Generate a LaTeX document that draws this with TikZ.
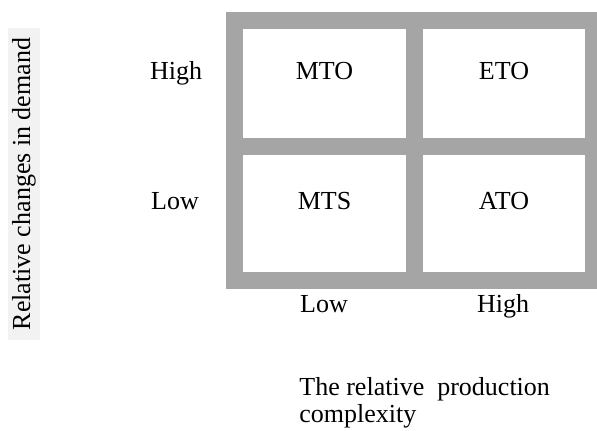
\documentclass[tikz,border=0pt]{standalone}
\usepackage{fontspec}
\setmainfont{Liberation Serif}
\definecolor{frame}{HTML}{A5A5A5}
\definecolor{lblbg}{HTML}{F2F2F2}
\begin{document}
\begin{tikzpicture}[x=0.5pt,y=-0.5pt,
  txt/.style={anchor=base,inner sep=0pt,font=\fontsize{13pt}{15.6pt}\selectfont},
  cellfill/.style={fill=white}]
\useasboundingbox (0,0) rectangle (597,430);
% frame
\fill[frame] (226,12) rectangle (597,289);
\fill[cellfill] (243,29) rectangle (406,138);
\fill[cellfill] (423,29) rectangle (585,138);
\fill[cellfill] (243,155) rectangle (406,272);
\fill[cellfill] (423,155) rectangle (585,272);
% cell labels
\node[txt] (mto) at (324.5,79) {MTO};
\node[txt] (eto) at (504,79) {ETO};
\node[txt] (mts) at (324.5,209) {MTS};
\node[txt] (ato) at (504,209) {ATO};
% axis labels
\node[txt] (yhigh) at (176,79) {High};
\node[txt] (ylow) at (175,209) {Low};
\node[txt] (xlow) at (324,312) {Low};
\node[txt] (xhigh) at (503,312) {High};
\node[anchor=base west,inner sep=0pt,font=\fontsize{13pt}{13.5pt}\selectfont,align=left] (xtitle) at (299,422) {The relative\ \ production\\complexity};
\node[fill=lblbg,rotate=90,minimum width=156pt,minimum height=16pt,inner sep=0pt,font=\fontsize{13pt}{15.6pt}\selectfont] (ytitle) at (24,184) {Relative changes in demand};
\end{tikzpicture}
\end{document}
